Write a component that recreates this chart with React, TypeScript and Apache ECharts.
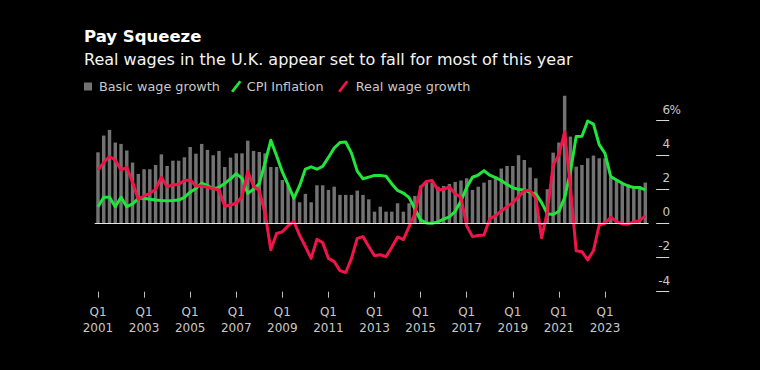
import React, { useEffect, useRef } from "react";
import * as echarts from "echarts";

// Quarterly categories Q1 2001 .. Q4 2024
const years: number[] = [2001, 2002, 2003, 2004, 2005, 2006, 2007, 2008, 2009, 2010, 2011, 2012, 2013, 2014, 2015, 2016, 2017, 2018, 2019, 2020, 2021, 2022, 2023, 2024];
const quarters: string[] = ["Q1", "Q2", "Q3", "Q4"];
const categories: string[] = [];
years.forEach((y) => quarters.forEach((q) => categories.push(`${q} ${y}`)));

const wageGrowth: number[] = [
  4.15, 5.13, 5.46, 4.72, 4.64, 4.25, 3.55, 2.88,
  3.16, 3.16, 3.41, 4.03, 3.35, 3.66, 3.66, 3.86,
  4.46, 4.07, 4.64, 4.29, 3.98, 4.23, 3.29, 3.84,
  4.09, 4.09, 4.83, 4.23, 4.17, 4.09, 3.29, 3.29,
  2.53, 2.24, 1.5, 1.23, 1.72, 1.23, 2.22, 2.22,
  1.95, 2.14, 1.66, 1.66, 1.66, 1.91, 1.66, 1.4,
  0.68, 0.97, 0.68, 0.68, 1.17, 0.68, 1.17, 1.6,
  2.2, 2.38, 2.38, 2.14, 2.18, 2.3, 2.42, 2.5,
  2.63, 1.95, 2.14, 2.38, 2.53, 2.73, 3.2, 3.35,
  3.35, 3.98, 3.7, 3.26, 2.63, -0.1, 1.99, 4.13,
  4.72, 7.45, 5.07, 3.31, 3.41, 3.8, 3.96, 3.8,
  3.8, 2.69, 2.57, 2.34, 2.28, 2.14, 2.18, 2.38,
];

const cpiInflation: number[] = [
  0.97, 1.52, 1.52, 0.97, 1.52, 0.97, 1.13, 1.46,
  1.46, 1.4, 1.36, 1.33, 1.31, 1.33, 1.36, 1.52,
  1.82, 2.04, 2.34, 2.2, 2.02, 2.1, 2.33, 2.6,
  2.9, 2.63, 1.75, 1.99, 2.32, 3.55, 4.85, 3.95,
  3.0, 2.25, 1.46, 2.2, 3.17, 3.3, 3.16, 3.33,
  3.85, 4.4, 4.72, 4.75, 4.1, 3.05, 2.6, 2.7,
  2.8, 2.8, 2.75, 2.3, 1.92, 1.77, 1.5, 0.85,
  0.18, 0.02, 0.0, 0.08, 0.24, 0.38, 0.7, 1.3,
  2.1, 2.69, 2.82, 3.08, 2.81, 2.67, 2.5, 2.27,
  2.08, 1.98, 1.95, 1.8, 1.72, 1.21, 0.56, 0.51,
  0.7, 1.5, 3.0, 5.07, 5.09, 5.98, 5.8, 4.6,
  4.09, 2.73, 2.53, 2.34, 2.18, 2.09, 2.09, 1.95,
];

const realWageGrowth: number[] = [
  3.12, 3.55, 3.9, 3.7, 3.12, 3.27, 2.4, 1.4,
  1.6, 1.75, 1.99, 2.69, 2.14, 2.24, 2.28, 2.5,
  2.53, 2.18, 2.18, 2.11, 2.02, 1.95, 1.0, 1.07,
  1.17, 1.55, 3.02, 2.18, 1.9, 0.6, -1.55, -0.6,
  -0.5, -0.14, 0.1, -0.7, -1.36, -2.05, -0.94, -1.13,
  -2.05, -2.24, -2.77, -2.88, -2.05, -0.88, -0.78, -1.36,
  -1.9, -1.84, -1.95, -1.4, -0.8, -0.95, -0.2, 0.56,
  2.1, 2.45, 2.5, 1.95, 1.99, 2.12, 1.73, 1.52,
  -0.15, -0.78, -0.72, -0.68, 0.27, 0.43, 0.72, 0.97,
  1.21, 1.56, 1.91, 1.91, 1.46, -0.85, 0.68, 3.41,
  4.0, 5.35, 2.1, -1.6, -1.66, -2.14, -1.6, -0.1,
  0.0, 0.35, 0.1, -0.04, -0.05, 0.08, 0.15, 0.43,
];

const yTicks: number[] = [-4, -2, 0, 2, 4, 6];

const FONT = "DejaVu Sans";
const GREY_TEXT = "#c8c8c8";
const BAR_COLOR = "#727272";
const GREEN = "#20e63c";
const RED = "#ef1548";
const PCT_W = 10; // room reserved on the right for the "%" sign

export default function App() {
  const ref = useRef<HTMLDivElement>(null);

  useEffect(() => {
    document.body.style.margin = "0";
    document.body.style.background = "#000";
    if (!ref.current) return;
    const chart = echarts.init(ref.current, undefined, { renderer: "svg" });
    const slash = "path://M0,11 L8.6,0 L11,1.6 L2.4,12.6 Z";
    chart.setOption({
      animation: false,
      backgroundColor: "#000",
      textStyle: { fontFamily: FONT },
      title: [
        {
          text: "Pay Squeeze",
          left: 79,
          top: 23,
          textStyle: { color: "#fff", fontSize: 16.5, fontWeight: "bold", fontFamily: FONT },
        },
        {
          text: "Real wages in the U.K. appear set to fall for most of this year",
          left: 79,
          top: 46,
          textStyle: { color: "#f4f4f4", fontSize: 16, fontWeight: "normal", fontFamily: FONT },
        },
      ],
      legend: [
        {
          data: ["Basic wage growth"],
          left: 79,
          top: 75,
          icon: "rect",
          itemWidth: 8,
          itemHeight: 8,
          selectedMode: false,
          textStyle: { color: GREY_TEXT, fontSize: 12.8, fontFamily: FONT, padding: [0, 0, 0, 2] },
        },
        {
          data: ["CPI Inflation"],
          left: 226,
          top: 75,
          icon: slash,
          itemWidth: 11,
          itemHeight: 12,
          selectedMode: false,
          textStyle: { color: GREY_TEXT, fontSize: 12.8, fontFamily: FONT },
        },
        {
          data: ["Real wage growth"],
          left: 333,
          top: 75,
          icon: slash,
          itemWidth: 11,
          itemHeight: 12,
          selectedMode: false,
          textStyle: { color: GREY_TEXT, fontSize: 12.8, fontFamily: FONT, padding: [0, 0, 0, 2] },
        },
      ],
      grid: {
        left: 95.1,
        right: 111.8,
        top: 95,
        bottom: 78.3,
        containLabel: false,
        outerBoundsMode: "none",
      },
      xAxis: [
        {
          type: "category",
          data: categories,
          boundaryGap: true,
          axisLine: { show: true, onZero: true, lineStyle: { color: "#e6e6e6", width: 1 } },
          axisTick: { show: false },
          axisLabel: { show: false },
          splitLine: { show: false },
          z: 5,
        },
        {
          type: "category",
          data: categories,
          boundaryGap: true,
          position: "bottom",
          axisLine: { show: false, onZero: false },
          axisTick: {
            show: true,
            alignWithLabel: true,
            length: 6,
            interval: (i: number) => i % 8 === 0,
            lineStyle: { color: "#bdbdbd", width: 1 },
          },
          axisLabel: {
            show: true,
            interval: (i: number) => i % 8 === 0,
            formatter: (v: string) => v.replace(" ", "\n"),
            color: GREY_TEXT,
            fontSize: 12,
            lineHeight: 16,
            margin: 12,
            fontFamily: FONT,
          },
          splitLine: { show: false },
        },
      ],
      yAxis: {
        type: "value",
        position: "right",
        min: -4,
        max: 7.5,
        offset: 8,
        axisLine: { show: false },
        splitLine: { show: false },
        axisTick: {
          show: true,
          length: 13,
          customValues: yTicks,
          lineStyle: { color: "#d8d8d8", width: 1 },
        },
        axisLabel: {
          show: true,
          customValues: yTicks,
          align: "right",
          verticalAlign: "bottom",
          margin: 14 + PCT_W,
          padding: [0, 0, 5, 0],
          color: GREY_TEXT,
          fontSize: 12,
          fontFamily: FONT,
          formatter: (v: number) => (v === 6 ? "{m|6}{p|%}" : `{n|${v}}`),
          rich: {
            n: { color: GREY_TEXT, fontSize: 12, fontFamily: FONT, padding: [0, PCT_W, 0, 0] },
            m: { color: GREY_TEXT, fontSize: 12, fontFamily: FONT },
            p: { color: GREY_TEXT, fontSize: 12, fontFamily: FONT, width: PCT_W, align: "left" },
          },
        },
      },
      series: [
        {
          name: "Basic wage growth",
          type: "bar",
          data: wageGrowth,
          barWidth: "60%",
          itemStyle: { color: BAR_COLOR },
          z: 2,
        },
        {
          name: "CPI Inflation",
          type: "line",
          data: cpiInflation,
          showSymbol: false,
          symbol: "none",
          lineStyle: { color: GREEN, width: 3, join: "round" },
          itemStyle: { color: GREEN },
          z: 3,
        },
        {
          name: "Real wage growth",
          type: "line",
          data: realWageGrowth,
          showSymbol: false,
          symbol: "none",
          lineStyle: { color: RED, width: 3, join: "round" },
          itemStyle: { color: RED },
          z: 4,
        },
      ],
    });
    return () => chart.dispose();
  }, []);

  return <div ref={ref} style={{ width: 760, height: 370, background: "#000" }} />;
}
